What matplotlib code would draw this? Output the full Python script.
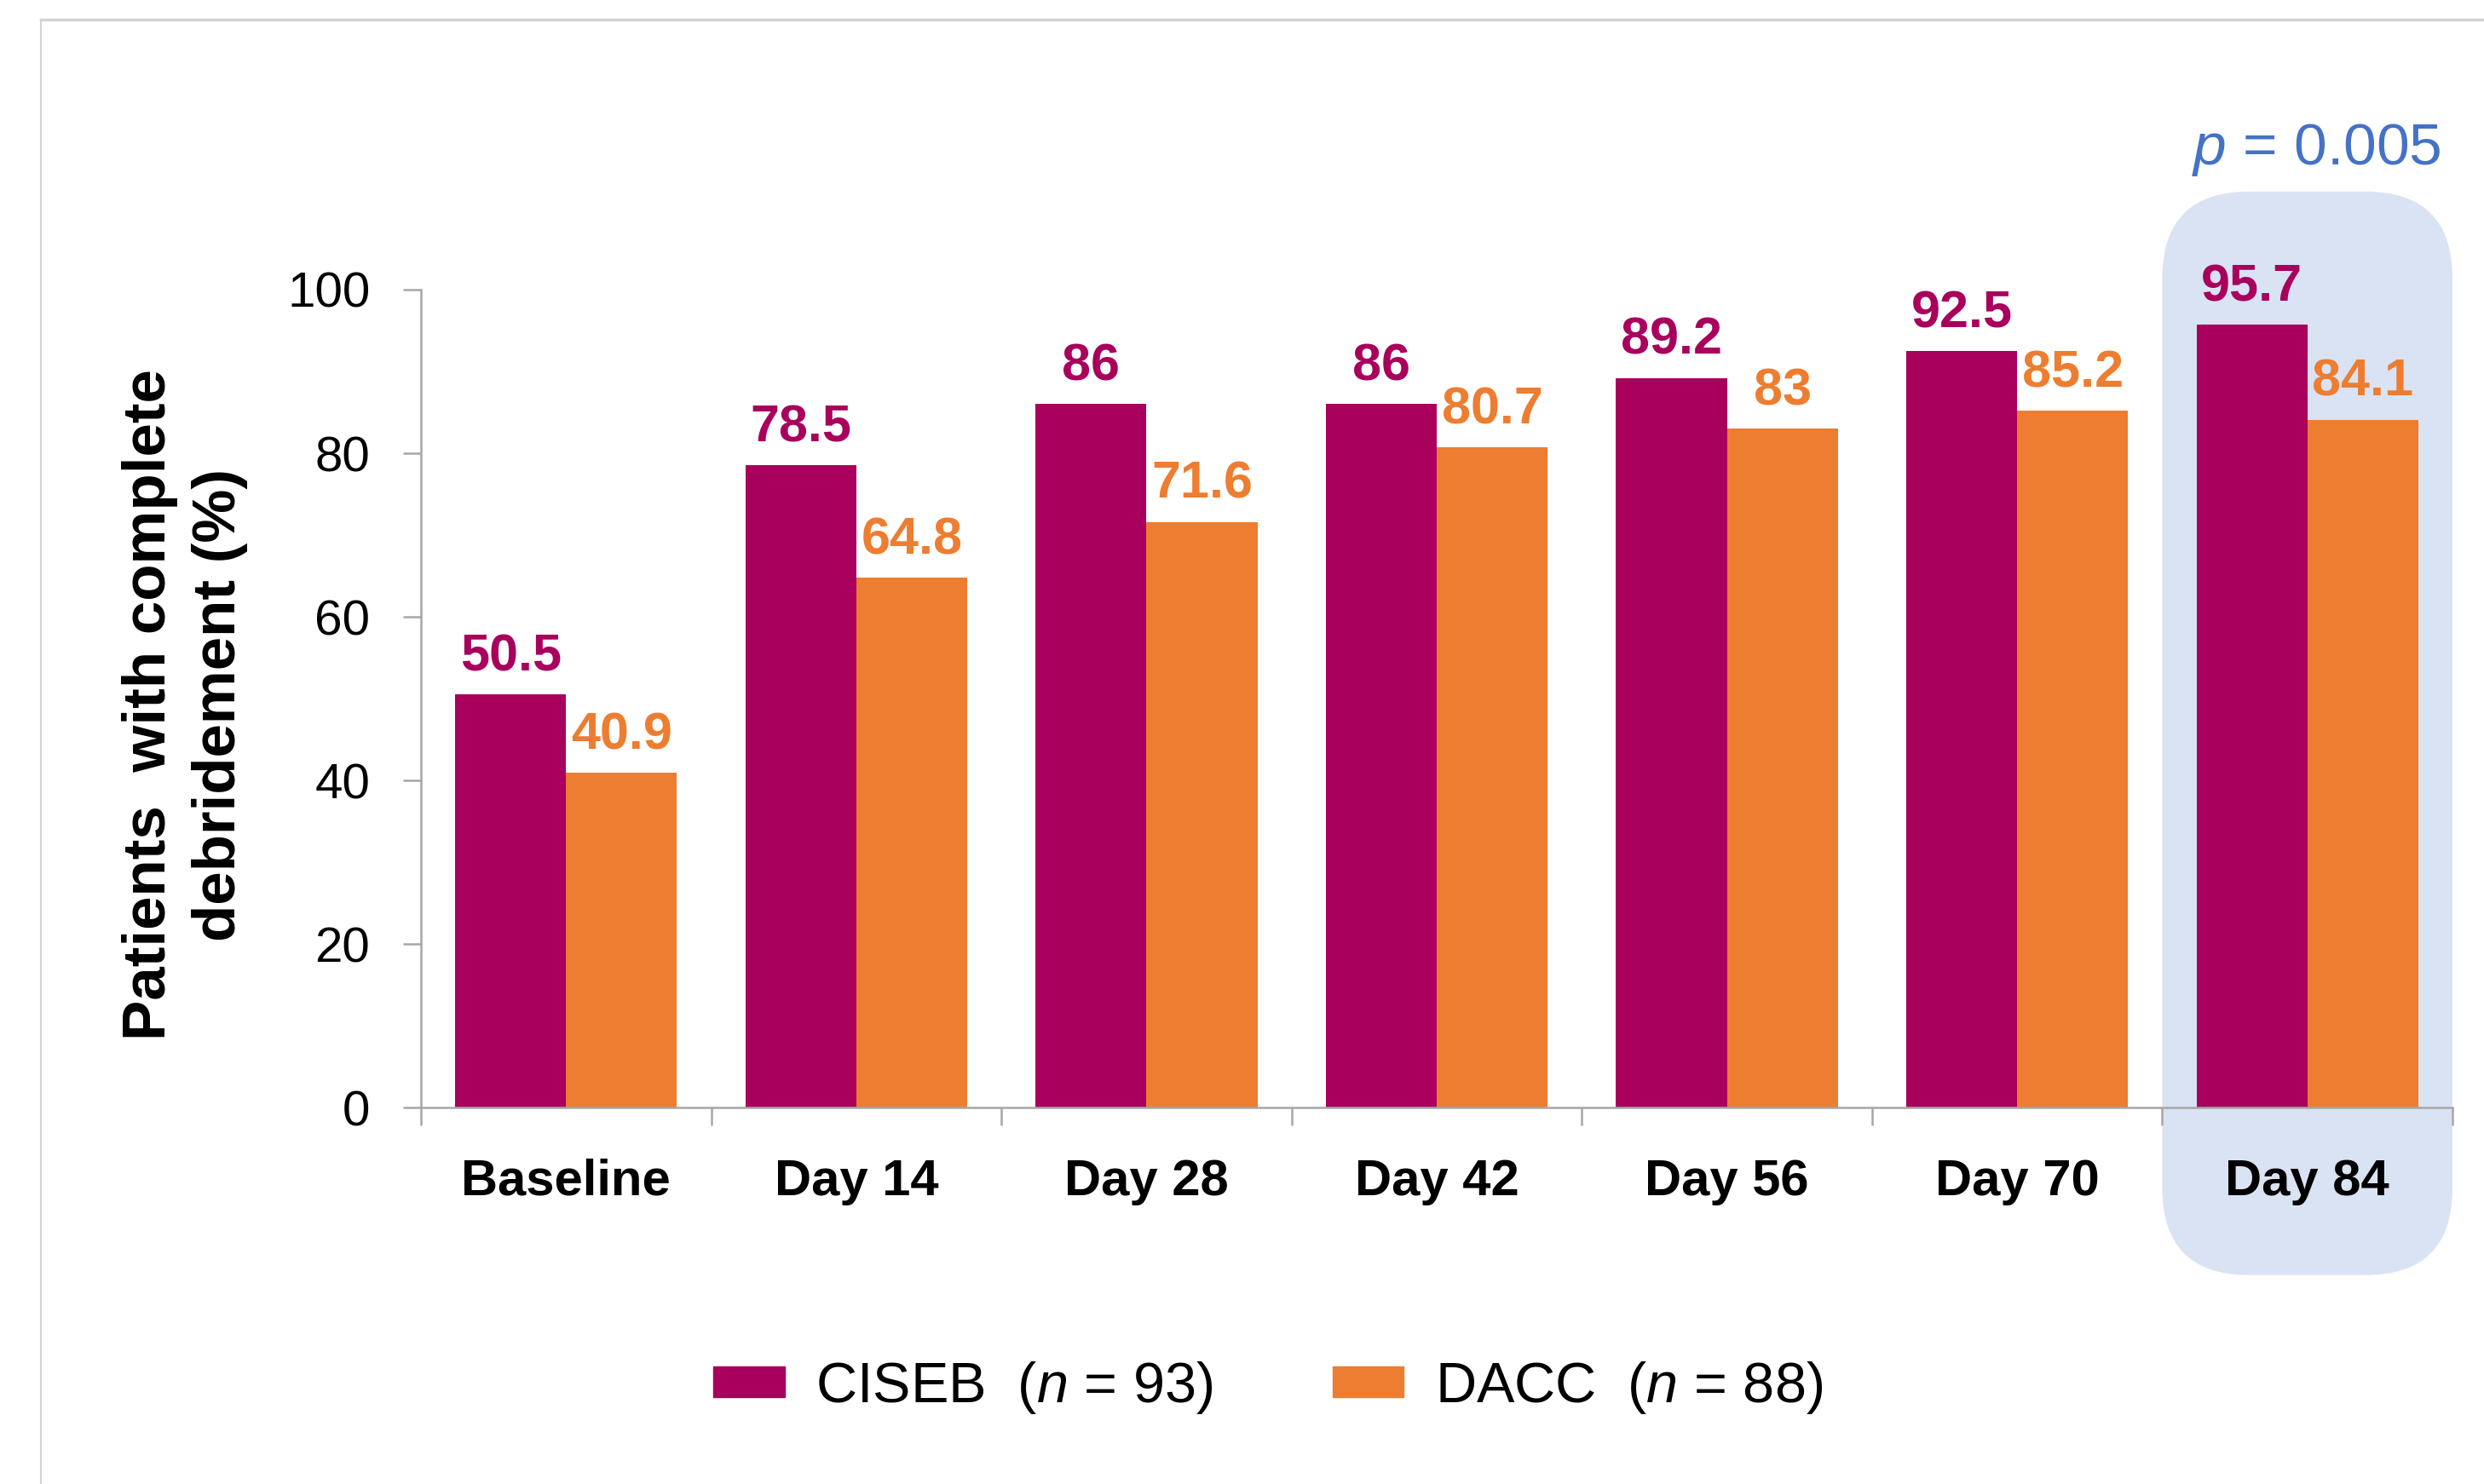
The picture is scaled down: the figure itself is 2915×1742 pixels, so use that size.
import matplotlib
matplotlib.use("Agg")
import matplotlib.pyplot as plt
from matplotlib.patches import FancyBboxPatch, Patch
from matplotlib.lines import Line2D
import numpy as np

categories = ["Baseline", "Day 14", "Day 28", "Day 42", "Day 56", "Day 70", "Day 84"]
ciseb = [50.5, 78.5, 86, 86, 89.2, 92.5, 95.7]
dacc = [40.9, 64.8, 71.6, 80.7, 83, 85.2, 84.1]
ciseb_lbl = ["50.5", "78.5", "86", "86", "89.2", "92.5", "95.7"]
dacc_lbl = ["40.9", "64.8", "71.6", "80.7", "83", "85.2", "84.1"]
yticks = [0, 20, 40, 60, 80, 100]

c_ciseb = "#A8005C"
c_dacc = "#ED7D31"
c_hl = "#DAE3F3"
c_p = "#4472C4"
c_axis = "#A6A6A6"

plt.rcParams["font.family"] = ["Liberation Sans", "DejaVu Sans"]
plt.rcParams["mathtext.fontset"] = "custom"
plt.rcParams["mathtext.it"] = "Liberation Sans:italic"
plt.rcParams["mathtext.rm"] = "Liberation Sans"

W, H = 2915, 1742
fig = plt.figure(figsize=(W / 100, H / 100), dpi=100)
ax = fig.add_axes([494 / W, 442 / H, (2878 - 494) / W, (1300 - 340) / H])

x = np.arange(len(categories))
bw = 0.382
b1 = ax.bar(x - bw / 2, ciseb, bw, color=c_ciseb, zorder=2)
b2 = ax.bar(x + bw / 2, dacc, bw, color=c_dacc, zorder=2)

for i in range(len(categories)):
    ax.annotate(ciseb_lbl[i], (x[i] - bw / 2, ciseb[i]), xytext=(0, 20),
                textcoords="offset points", ha="center", va="baseline",
                fontsize=44, fontweight="bold", color=c_ciseb, annotation_clip=False)
    ax.annotate(dacc_lbl[i], (x[i] + bw / 2, dacc[i]), xytext=(0, 20),
                textcoords="offset points", ha="center", va="baseline",
                fontsize=44, fontweight="bold", color=c_dacc, annotation_clip=False)

ax.set_xlim(-0.5, len(categories) - 0.5)
ax.set_ylim(0, 100)

# highlight box round the last group
px_x = (2878 - 494) / 7.0
px_y = (1300 - 340) / 100.0
asp = px_x / px_y
hl = FancyBboxPatch((5.5, -20.5), 1.0, 132.5,
                    boxstyle="round,pad=0,rounding_size=0.3", mutation_aspect=asp,
                    facecolor=c_hl, edgecolor="none", zorder=0, clip_on=False)
ax.add_patch(hl)
ax.text(6.03, 115.3, "$p$ = 0.005", ha="center", va="baseline",
        fontsize=50, color=c_p)

ax.spines["top"].set_visible(False)
ax.spines["right"].set_visible(False)
for s in ["left", "bottom"]:
    ax.spines[s].set_color(c_axis)
    ax.spines[s].set_linewidth(1.8)

ax.set_yticks(yticks)
ax.set_yticklabels([str(v) for v in yticks])
ax.tick_params(axis="y", length=15, width=1.8, color=c_axis, pad=28, labelsize=42)

ax.set_xticks(np.arange(len(categories) + 1) - 0.5)
ax.set_xticklabels([])
ax.tick_params(axis="x", which="major", length=15, width=1.8, color=c_axis, direction="out")
ax.set_xticks(x, minor=True)
ax.set_xticklabels(categories, minor=True, fontsize=43, fontweight="bold")
ax.tick_params(axis="x", which="minor", length=0, pad=43)

fig.text(217 / W, 1 - 827 / H, "Patients  with complete\ndebridement (%)",
         rotation=90, ha="center", va="center", fontsize=51, fontweight="bold",
         linespacing=1.3)

handles = [Patch(color=c_ciseb), Patch(color=c_dacc)]
fig.legend(handles, ["CISEB  ($n$ = 93)", "DACC  ($n$ = 88)"], loc="center",
           bbox_to_anchor=(0.5105, 0.0649), ncol=2, frameon=False, fontsize=48,
           handlelength=1.25, handleheight=0.45, handletextpad=0.55,
           columnspacing=2.1)

# frame lines of the slide
fig.add_artist(Line2D([48 / W, 1], [1 - 23 / H, 1 - 23 / H], color="#D3D3D3", lw=2.5))
fig.add_artist(Line2D([48 / W, 48 / W], [0, 1 - 23 / H], color="#D3D3D3", lw=1.5))

fig.savefig("out.png", dpi=100)
